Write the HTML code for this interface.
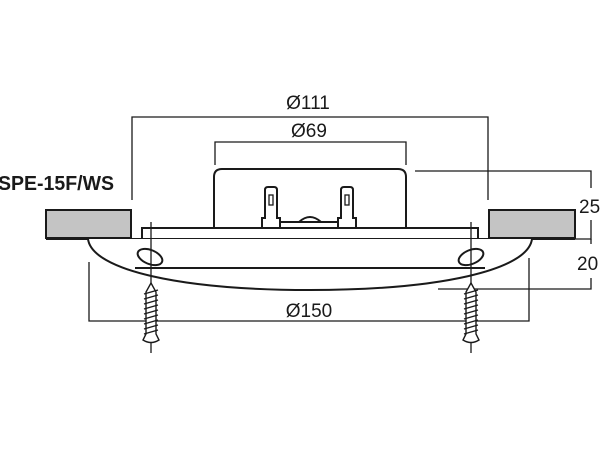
<!DOCTYPE html>
<html><head><style>html,body{margin:0;padding:0;background:#fff}svg{display:block}</style></head>
<body>
<svg width="600" height="450" viewBox="0 0 600 450" xmlns="http://www.w3.org/2000/svg" font-family="Liberation Sans, sans-serif">
<g fill="none" stroke="#1a1a1a" stroke-width="1.3">
<polyline points="132,200 132,117 488,117 488,200"/>
<polyline points="215,165 215,142 406,142 406,165"/>
<polyline points="415,171 591,171 591,188"/>
<polyline points="591,220 591,239 575,239"/>
<line x1="591" y1="239" x2="591" y2="244"/>
<polyline points="591,278 591,289 438,289"/>
<polyline points="89,262 89,321 529,321 529,258"/>
</g>
<rect x="46" y="210" width="85" height="28" fill="#c4c4c4" stroke="#1a1a1a" stroke-width="2"/>
<rect x="489" y="210" width="86" height="28" fill="#c4c4c4" stroke="#1a1a1a" stroke-width="2"/>
<g fill="none" stroke="#1a1a1a" stroke-width="2">
<line x1="46" y1="239" x2="575" y2="239"/>
<path d="M214,228 L214,177 Q214,169 222,169 L398,169 Q406,169 406,177 L406,228"/>
<rect x="142" y="228" width="336" height="11" fill="#fff"/>
<path d="M262,228 L262,218 L265,218 L265,190 Q265,187 268,187 L274,187 Q277,187 277,190 L277,218 L280,218 L280,228"/>
<path d="M338,228 L338,218 L341,218 L341,190 Q341,187 344,187 L350,187 Q353,187 353,190 L353,218 L356,218 L356,228"/>
<rect x="269" y="195" width="4" height="10" stroke-width="1.3"/>
<rect x="345" y="195" width="4" height="10" stroke-width="1.3"/>
<rect x="280" y="222" width="58" height="6"/>
<path d="M299,222 Q310,212 321,222"/>
<path d="M88,239 C92,270 180,290 310,290 C440,290 528,270 532,239" fill="#fff"/>
<line x1="135" y1="268" x2="485" y2="268"/>
<ellipse cx="150" cy="257" rx="13" ry="7" transform="rotate(22 150 257)"/>
<ellipse cx="471" cy="257" rx="13" ry="7" transform="rotate(-22 471 257)"/>
</g>
<g stroke="#1a1a1a" stroke-width="1.3" fill="none">
<line x1="151" y1="222" x2="151" y2="353"/>
<line x1="471" y1="222" x2="471" y2="353"/>
</g>
<g id="s" fill="#fff" stroke="#1a1a1a" stroke-width="1.4">
<path d="M151,283 L146,292 L146,334 L143,340 Q151,345 159,340 L156,334 L156,292 Z"/>
<path d="M144,294 L158,290 M144,299 L158,295 M144,304 L158,300 M144,309 L158,305 M144,314 L158,310 M144,319 L158,315 M144,324 L158,320 M144,329 L158,325 M144,334 L158,330"/>
</g>
<use href="#s" transform="translate(320,0)"/>
<g fill="#1a1a1a">
<text x="308" y="109" font-size="19" text-anchor="middle">Ø111</text>
<text x="309" y="137" font-size="19" text-anchor="middle">Ø69</text>
<text x="309" y="317" font-size="19" text-anchor="middle">Ø150</text>
<text x="579" y="213" font-size="19">25</text>
<text x="577" y="270" font-size="19">20</text>
<text x="-2" y="190" font-size="20" font-weight="bold" textLength="116" lengthAdjust="spacingAndGlyphs">SPE-15F/WS</text>
</g>
</svg>
</body></html>
